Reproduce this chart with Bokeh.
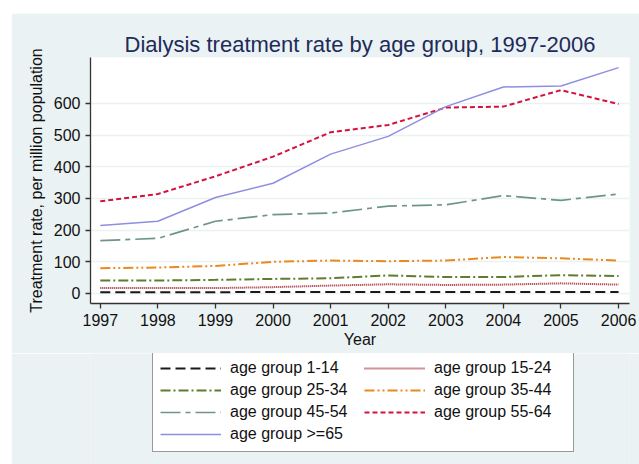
from bokeh.plotting import figure
from bokeh.layouts import column
from bokeh.models import Legend, LegendItem, Range1d, FixedTicker
from bokeh.embed import file_html
from bokeh.resources import INLINE

years = [1997, 1998, 1999, 2000, 2001, 2002, 2003, 2004, 2005, 2006]
age_1_14 = [4, 4, 4, 5, 5, 5, 5, 5, 5, 5]
age_15_24 = [17, 17, 17, 20, 25, 29, 27, 28, 32, 28]
age_25_34 = [41, 41, 43, 46, 48, 57, 52, 52, 58, 55]
age_35_44 = [80, 82, 87, 100, 104, 102, 104, 115, 111, 104]
age_45_54 = [167, 174, 228, 249, 254, 276, 280, 309, 294, 314]
age_55_64 = [291, 314, 370, 432, 509, 532, 587, 590, 642, 598]
age_65_plus = [215, 228, 303, 348, 440, 496, 590, 652, 655, 713]
y_ticks = [0, 100, 200, 300, 400, 500, 600]

series = [
    ("age group 1-14", age_1_14, "#1a1a1a", "10 5", 2),
    ("age group 15-24", age_15_24, "#a3262e", "1 1", 2),
    ("age group 25-34", age_25_34, "#5f7d2e", "10 3 2 3", 2),
    ("age group 35-44", age_35_44, "#ea8a1e", "10 3 2 3 2 3", 2),
    ("age group 45-54", age_45_54, "#6f9587", "20 5 5 5", 1.7),
    ("age group 55-64", age_55_64, "#d3123f", "5 3", 2),
    ("age group >=65", age_65_plus, "#8f8ee0", "solid", 1.5),
]

FONT = "Liberation Sans"
BG = "#EAF2F3"

p = figure(frame_width=539, frame_height=246, output_backend="svg",
           toolbar_location=None,
           x_range=Range1d(1996.83, 2006.19), y_range=Range1d(-31.6, 745),
           min_border_left=79, min_border_right=10, min_border_top=44,
           min_border_bottom=50,
           background_fill_color="white", border_fill_color=BG,
           outline_line_color=None)

p.title.text = "Dialysis treatment rate by age group, 1997-2006"
p.title.align = "center"
p.title.text_font = FONT
p.title.text_font_size = "22px"
p.title.text_font_style = "normal"
p.title.text_color = "#1e2b5a"
p.title.standoff = 2

for name, vals, color, dash, w in series:
    p.line(years, vals, line_color=color, line_dash=dash, line_width=w)

p.xgrid.grid_line_color = None
p.ygrid.grid_line_color = BG
p.ygrid.grid_line_width = 1.5
p.ygrid.ticker = FixedTicker(ticks=y_ticks)

for ax in (p.xaxis[0], p.yaxis[0]):
    ax.axis_line_color = "#333333"
    ax.axis_line_width = 1.3
    ax.major_tick_line_color = "#333333"
    ax.major_tick_line_width = 1.3
    ax.major_tick_out = 5
    ax.major_tick_in = 0
    ax.minor_tick_out = 0
    ax.minor_tick_in = 0
    ax.major_label_text_font = FONT
    ax.major_label_text_font_size = "16px"
    ax.major_label_text_color = "#111111"
    ax.axis_label_text_font = FONT
    ax.axis_label_text_font_size = "16px"
    ax.axis_label_text_font_style = "normal"
    ax.axis_label_text_color = "#111111"

p.xaxis.ticker = FixedTicker(ticks=years)
p.yaxis.ticker = FixedTicker(ticks=y_ticks)
p.xaxis.axis_label = "Year"
p.xaxis.axis_label_standoff = 2
p.yaxis.axis_label = "Treatment rate, per million population"
p.yaxis.axis_label_standoff = 6
p.yaxis.major_label_orientation = "horizontal"

# legend holder: same series drawn out of view, legend inside its frame
q = figure(frame_width=539, frame_height=111, output_backend="svg",
           toolbar_location=None,
           x_range=Range1d(0, 1), y_range=Range1d(-5000, -4000),
           x_axis_location=None, y_axis_location=None,
           min_border_left=79, min_border_right=10, min_border_top=0,
           min_border_bottom=0,
           background_fill_color=BG, border_fill_color=BG,
           outline_line_color=None)
q.xgrid.grid_line_color = None
q.ygrid.grid_line_color = None

items = []
for name, vals, color, dash, w in series:
    r = q.line(years, vals, line_color=color, line_dash=dash, line_width=w)
    items.append(LegendItem(label=name, renderers=[r]))

legend = Legend(items=items, orientation="horizontal", ncols=2,
                location=(62, 12), margin=0, padding=7, spacing=2,
                glyph_width=61, glyph_height=20, label_height=20,
                label_standoff=9, label_width=132,
                label_text_font=FONT, label_text_font_size="16px",
                label_text_color="#111111",
                border_line_color="#333333", border_line_width=1.3,
                background_fill_color="white", background_fill_alpha=1)
q.add_layout(legend, "center")

layout = column(p, q, spacing=0, margin=(13, 0, 0, 11))

open("out.html", "w").write(file_html(layout, INLINE))
